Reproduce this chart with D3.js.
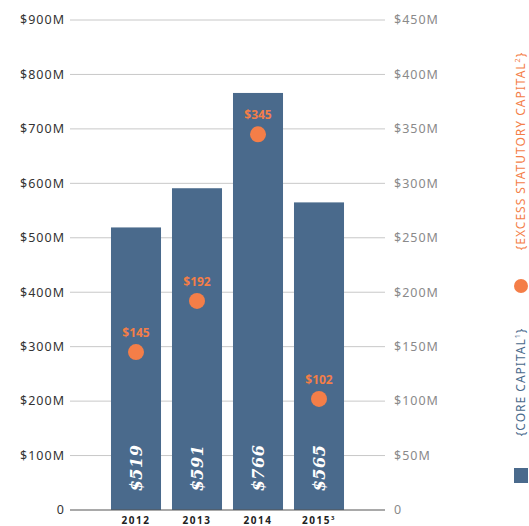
<!DOCTYPE html>
<html>
<head>
<meta charset="utf-8">
<script src="https://cdn.jsdelivr.net/npm/d3@7"></script>
<style>
  body { margin: 0; background: #fff; }
  text { font-family: "Noto Sans", sans-serif; }
</style>
</head>
<body>
<svg id="chart" width="529" height="526"></svg>
<script>
var years = ["2012", "2013", "2014", "2015"];
var yearNotes = ["", "", "", "3"];
var coreCapital = [519, 591, 766, 565];
var excessCapital = [145, 192, 345, 102];
var leftTicks = [0, 100, 200, 300, 400, 500, 600, 700, 800, 900];
var rightTicks = [0, 50, 100, 150, 200, 250, 300, 350, 400, 450];

var blue = "#4a6a8c";
var orange = "#f47e48";

var svg = d3.select("#chart");

var x = d3.scaleBand()
  .domain(years)
  .range([105.5, 349.5])
  .paddingInner(0.18)
  .paddingOuter(0.09);

var yLeft = d3.scaleLinear().domain([0, 900]).range([510, 20]);
var yRight = d3.scaleLinear().domain([0, 450]).range([510, 20]);

// grid lines
svg.append("g")
  .selectAll("line")
  .data(leftTicks.filter(d => d > 0))
  .enter()
  .append("line")
  .attr("x1", 70).attr("x2", 385)
  .attr("y1", d => yLeft(d)).attr("y2", d => yLeft(d))
  .attr("stroke", "#c8c8c8")
  .attr("stroke-width", 1);

// left axis labels
svg.append("g")
  .selectAll("text")
  .data(leftTicks)
  .enter()
  .append("text")
  .attr("x", 65)
  .attr("y", d => yLeft(d))
  .attr("dy", "0.35em")
  .attr("text-anchor", "end")
  .attr("font-size", 12.5)
  .attr("letter-spacing", 1)
  .attr("fill", "#333")
  .text(d => d === 0 ? "0" : "$" + d + "M");

// right axis labels
svg.append("g")
  .selectAll("text")
  .data(rightTicks)
  .enter()
  .append("text")
  .attr("x", 394)
  .attr("y", d => yRight(d))
  .attr("dy", "0.35em")
  .attr("font-size", 12.5)
  .attr("letter-spacing", 1)
  .attr("fill", "#8a8a8a")
  .text(d => d === 0 ? "0" : "$" + d + "M");

// bars
svg.append("g")
  .selectAll("rect")
  .data(coreCapital)
  .enter()
  .append("rect")
  .attr("x", (d, i) => x(years[i]))
  .attr("width", x.bandwidth())
  .attr("y", d => yLeft(d))
  .attr("height", d => yLeft(0) - yLeft(d))
  .attr("fill", blue);

// bar value labels (rotated)
svg.append("g")
  .selectAll("text")
  .data(coreCapital)
  .enter()
  .append("text")
  .attr("transform", (d, i) => "translate(" + (x(years[i]) + x.bandwidth() / 2 + 6) + ",468) rotate(-90)")
  .attr("text-anchor", "middle")
  .style("font-family", "'DejaVu Serif', serif")
  .style("font-weight", "bold")
  .style("font-style", "italic")
  .attr("font-size", 16)
  .attr("letter-spacing", 0.5)
  .attr("fill", "#fff")
  .text(d => "$" + d);

// x axis line
svg.append("line")
  .attr("x1", 70).attr("x2", 385)
  .attr("y1", yLeft(0)).attr("y2", yLeft(0))
  .attr("stroke", "#555")
  .attr("stroke-width", 1.2);

// year labels
var yl = svg.append("g")
  .selectAll("text")
  .data(years)
  .enter()
  .append("text")
  .attr("x", d => x(d) + x.bandwidth() / 2)
  .attr("y", 524)
  .attr("text-anchor", "middle")
  .attr("font-size", 10)
  .attr("font-weight", "bold")
  .attr("letter-spacing", 1.5)
  .attr("fill", "#222");
yl.append("tspan").text(d => d);
yl.append("tspan")
  .attr("font-size", 6)
  .attr("dy", -4)
  .text((d, i) => yearNotes[i]);

// excess capital dots
svg.append("g")
  .selectAll("circle")
  .data(excessCapital)
  .enter()
  .append("circle")
  .attr("cx", (d, i) => x(years[i]) + x.bandwidth() / 2)
  .attr("cy", d => yRight(d))
  .attr("r", 8)
  .attr("fill", orange);

svg.append("g")
  .selectAll("text")
  .data(excessCapital)
  .enter()
  .append("text")
  .attr("x", (d, i) => x(years[i]) + x.bandwidth() / 2)
  .attr("y", d => yRight(d) - 15)
  .attr("text-anchor", "middle")
  .attr("font-size", 12)
  .attr("font-weight", "bold")
  .attr("fill", orange)
  .text(d => "$" + d);

// legend
var lg = svg.append("g");
lg.append("circle").attr("cx", 521).attr("cy", 286).attr("r", 7).attr("fill", orange);
var t1 = lg.append("text")
  .attr("transform", "translate(525,151) rotate(-90)")
  .attr("text-anchor", "middle")
  .attr("font-size", 12)
  .attr("letter-spacing", 1)
  .attr("fill", orange);
t1.append("tspan").text("{EXCESS STATUTORY CAPITAL");
t1.append("tspan").attr("font-size", 7).attr("dy", -5).text("2");
t1.append("tspan").attr("dy", 5).text("}");

lg.append("rect").attr("x", 514).attr("y", 468).attr("width", 14).attr("height", 15).attr("fill", blue);
var t2 = lg.append("text")
  .attr("transform", "translate(525,382) rotate(-90)")
  .attr("text-anchor", "middle")
  .attr("font-size", 12)
  .attr("letter-spacing", 1)
  .attr("fill", blue);
t2.append("tspan").text("{CORE CAPITAL");
t2.append("tspan").attr("font-size", 7).attr("dy", -5).text("1");
t2.append("tspan").attr("dy", 5).text("}");
</script>
</body>
</html>
